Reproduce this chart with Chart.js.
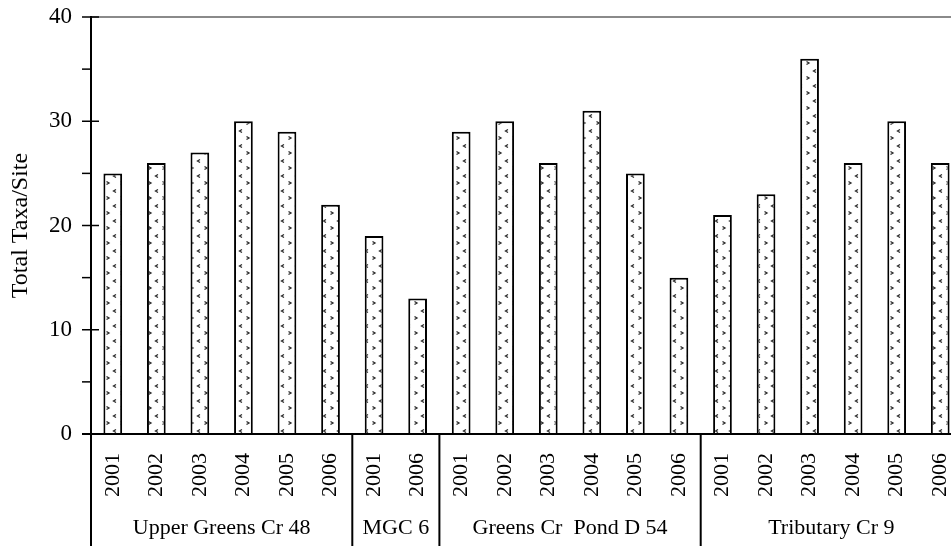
<!DOCTYPE html>
<html>
<head>
<meta charset="utf-8">
<script src="https://cdn.jsdelivr.net/npm/chart.js@4.4.0/dist/chart.umd.min.js"></script>
<style>
  html, body { margin: 0; padding: 0; background: #fff; overflow: hidden; }
  #wrap { width: 951px; height: 546px; overflow: hidden; }
</style>
</head>
<body>
<div id="wrap"><canvas id="chartTaxa" width="962" height="546"></canvas></div>
<script>
// sites and sampling years
var groupNames = ['Upper Greens Cr 48', 'MGC 6', 'Greens Cr  Pond D 54', 'Tributary Cr 9'];
var groupYears = [
    ['2001', '2002', '2003', '2004', '2005', '2006'],
    ['2001', '2006'],
    ['2001', '2002', '2003', '2004', '2005', '2006'],
    ['2001', '2002', '2003', '2004', '2005', '2006']
];
// total taxa per site
var groupTaxa = [
    [25, 26, 27, 30, 29, 22],
    [19, 13],
    [29, 30, 26, 31, 25, 15],
    [21, 23, 36, 26, 30, 26]
];
var majorTicks = [0, 10, 20, 30, 40];
var minorTicks = [5, 15, 25, 35];

var myLabels = [];
var myData = [];
groupYears.forEach(function (yrs, gi) {
    yrs.forEach(function (yr, i) {
        myLabels.push(yr);
        myData.push(groupTaxa[gi][i]);
    });
});

var $canvasTaxa = document.getElementById('chartTaxa');
var $ctxTaxa = $canvasTaxa.getContext('2d');

// small "<" and ">" marks, like the printed fill
function makeDotPattern() {
    var c = document.createElement('canvas');
    c.width = 14;
    c.height = 15;
    var g = c.getContext('2d');
    g.fillStyle = '#fff';
    g.fillRect(0, 0, 14, 15);
    g.strokeStyle = '#2a2a2a';
    g.lineWidth = 1.3;
    g.beginPath();
    g.moveTo(4, 9.5); g.lineTo(1.5, 11); g.lineTo(4, 12.5);
    g.stroke();
    g.beginPath();
    g.moveTo(8.5, 1.5); g.lineTo(11, 3); g.lineTo(8.5, 4.5);
    g.stroke();
    return $ctxTaxa.createPattern(c, 'repeat');
}

var serif = 'Liberation Serif';

var taxaAxes = {
    id: 'taxaAxes',
    afterDraw: function (chart) {
        var ctx = chart.ctx;
        var area = chart.chartArea;
        var x = chart.scales.x;
        var y = chart.scales.y;
        var half = (x.getPixelForValue(1) - x.getPixelForValue(0)) / 2;

        function line(x1, y1, x2, y2) {
            ctx.beginPath();
            ctx.moveTo(x1, y1);
            ctx.lineTo(x2, y2);
            ctx.stroke();
        }

        ctx.save();
        ctx.strokeStyle = '#8a8a8a';
        ctx.lineWidth = 2;
        line(area.left, area.top, area.right, area.top);

        ctx.strokeStyle = '#000';
        ctx.lineWidth = 2;
        line(area.left, area.top - 1, area.left, chart.height);
        line(area.left - 9, area.bottom, area.right, area.bottom);

        ctx.lineWidth = 1.5;
        majorTicks.forEach(function (v) {
            var py = y.getPixelForValue(v);
            line(area.left - 9, py, area.left + 8, py);
        });
        minorTicks.forEach(function (v) {
            var py = y.getPixelForValue(v);
            line(area.left - 9, py, area.left, py);
        });

        ctx.lineWidth = 2;
        ctx.fillStyle = '#000';
        ctx.font = '22px "' + serif + '"';
        ctx.textAlign = 'center';
        ctx.textBaseline = 'middle';
        var start = 0;
        groupYears.forEach(function (yrs, gi) {
            var end = start + yrs.length;
            var xl = x.getPixelForValue(start) - half;
            var xr = x.getPixelForValue(end - 1) + half;
            line(xr, area.bottom, xr, chart.height);
            ctx.fillText(groupNames[gi], (xl + xr) / 2, 528);
            start = end;
        });
        ctx.restore();
    }
};

new Chart($ctxTaxa, {
    type: 'bar',
    data: {
        labels: myLabels,
        datasets: [{
            data: myData,
            backgroundColor: makeDotPattern(),
            borderColor: '#000',
            borderWidth: 2,
            categoryPercentage: 1,
            barPercentage: 0.43
        }]
    },
    options: {
        responsive: false,
        animation: false,
        devicePixelRatio: 1,
        layout: {
            padding: { top: 17, right: 0, left: 0, bottom: 0 }
        },
        plugins: {
            legend: { display: false },
            tooltip: { enabled: false }
        },
        scales: {
            x: {
                grid: { display: false, drawTicks: false },
                border: { display: false },
                ticks: {
                    minRotation: 90,
                    maxRotation: 90,
                    autoSkip: false,
                    padding: 19,
                    color: '#000',
                    font: { family: serif, size: 22 }
                },
                afterFit: function (s) {
                    s.height = 112;
                    s.paddingLeft = 0;
                    s.paddingRight = 0;
                }
            },
            y: {
                min: 0,
                max: 40,
                grid: { display: false, drawTicks: false },
                border: { display: false },
                ticks: {
                    stepSize: 10,
                    padding: 19,
                    color: '#000',
                    font: { family: serif, size: 23 }
                },
                title: {
                    display: true,
                    text: 'Total Taxa/Site',
                    color: '#000',
                    font: { family: serif, size: 24 },
                    padding: { top: 6, bottom: 0 }
                },
                afterFit: function (s) {
                    s.width = 91;
                    s.paddingTop = 0;
                    s.paddingBottom = 0;
                }
            }
        }
    },
    plugins: [taxaAxes]
});
</script>
</body>
</html>
